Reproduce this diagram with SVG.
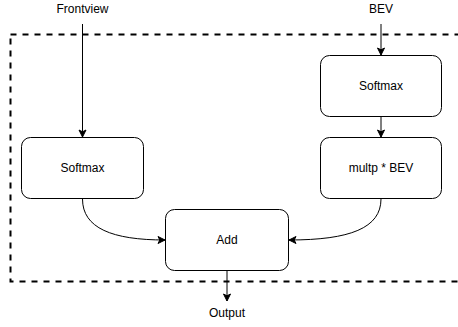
<svg xmlns="http://www.w3.org/2000/svg" width="458" height="327" viewBox="0 0 458 327">
  <defs>
    <marker id="arrow" markerUnits="userSpaceOnUse" markerWidth="10" markerHeight="10" refX="8" refY="5" orient="auto">
      <path d="M1,1.5 L8,5 L1,8.5 L2.8,5 Z" fill="#000" stroke="#000" stroke-width="1" stroke-linejoin="miter"/>
    </marker>
    <style>
      .box { fill: #fff; stroke: #000; stroke-width: 1; }
      .lbl { font-family: "Liberation Sans", Arial, sans-serif; font-size: 12px; fill: #000; text-anchor: middle; dominant-baseline: central; }
      .edge { fill: none; stroke: #000; stroke-width: 1; marker-end: url(#arrow); }
      .frame { fill: none; stroke: #000; stroke-width: 2; stroke-dasharray: 6 6; }
    </style>
  </defs>
  <rect width="458" height="327" fill="#fff"/>

  <!-- dashed enclosure -->
  <rect class="frame" x="10.5" y="34.5" width="460" height="247"/>

  <!-- input / output labels -->
  <g id="frontview"><text class="lbl" x="82.5" y="9">Frontview</text></g>
  <g id="bev"><text class="lbl" x="381" y="9">BEV</text></g>
  <g id="output"><text class="lbl" x="227" y="313">Output</text></g>

  <!-- connectors -->
  <g id="connectors">
    <path class="edge" d="M82.5 24 L82.5 137"/>
    <path class="edge" d="M381 24 L381 55"/>
    <path class="edge" d="M381 117 L381 137"/>
    <path class="edge" d="M82.5 199 C82.5 228 112 240 165 240"/>
    <path class="edge" d="M381 199 C381 228 350 240 289 240"/>
    <path class="edge" d="M227 271 L227 301"/>
  </g>

  <!-- nodes -->
  <g id="softmax-front">
    <rect class="box" x="21.5" y="137.5" width="122" height="61" rx="9"/>
    <text class="lbl" x="82.5" y="168">Softmax</text>
  </g>
  <g id="softmax-bev">
    <rect class="box" x="320.5" y="55.5" width="121" height="61" rx="9"/>
    <text class="lbl" x="381" y="86">Softmax</text>
  </g>
  <g id="multp-bev">
    <rect class="box" x="320.5" y="137.5" width="121" height="61" rx="9"/>
    <text class="lbl" x="381" y="168">multp * BEV</text>
  </g>
  <g id="add">
    <rect class="box" x="165.5" y="209.5" width="123" height="61" rx="9"/>
    <text class="lbl" x="227" y="240">Add</text>
  </g>
</svg>
